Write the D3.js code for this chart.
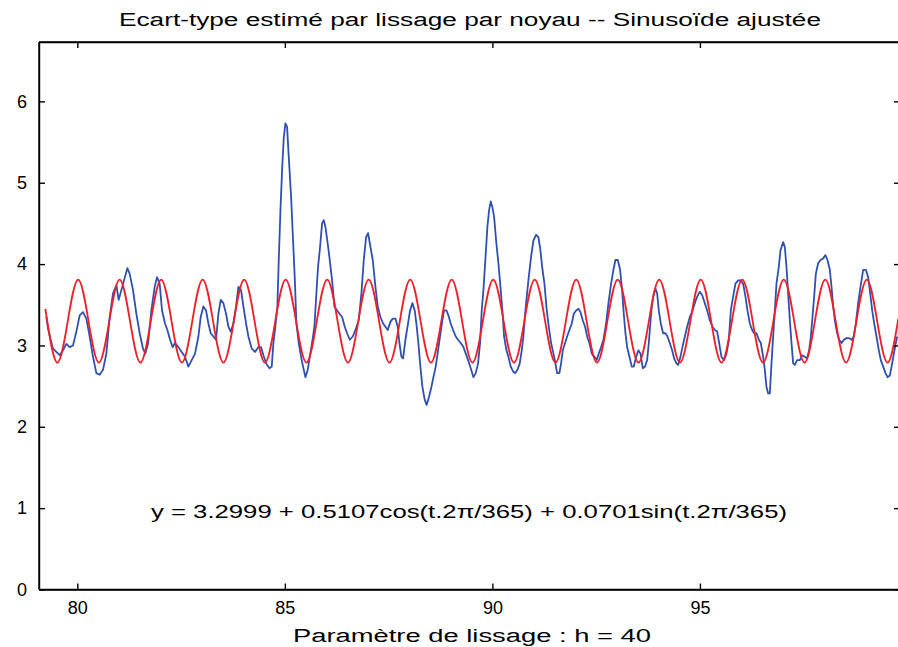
<!DOCTYPE html>
<html><head><meta charset="utf-8">
<script src="https://cdn.jsdelivr.net/npm/d3@7"></script>
<style>
html,body{margin:0;padding:0;background:#fff;}
svg{display:block;font-family:"Liberation Sans",Arial,sans-serif;}
</style></head>
<body>
<svg id="chart" width="898" height="647"></svg>
<script>
// ---- data ----
const xTicks = [80, 85, 90, 95];
const yTicks = [0, 1, 2, 3, 4, 5, 6];
const titleText = "Ecart-type estimé par lissage par noyau -- Sinusoïde ajustée";
const xLabelText = "Paramètre de lissage : h  = 40";
const equationText = "y = 3.2999 + 0.5107cos(t.2π/365) + 0.0701sin(t.2π/365)";

// kernel-smoothed standard deviation (blue)
const blueX = [
79.254,79.294,79.358,79.415,79.495,79.575,79.655,79.736,79.816,79.896,79.977,80.057,80.137,80.218,80.298,80.378,80.459,80.539,80.619,80.700,80.780,80.860,80.941,80.997,81.061,81.125,81.206,81.262,81.342,81.422,81.503,81.583,81.639,81.704,81.784,81.864,81.920,81.984,82.041,
82.113,82.170,82.234,82.298,82.354,82.435,82.515,82.595,82.676,82.756,82.836,82.917,82.973,83.037,83.101,83.158,83.214,83.278,83.342,83.399,83.455,83.519,83.583,83.640,83.696,83.760,83.824,83.881,83.945,84.001,84.065,84.122,84.202,84.282,84.363,84.427,84.483,84.547,84.628,84.684,84.724,84.780,84.820,84.853,84.893,
84.933,84.973,85.013,85.053,85.094,85.150,85.198,85.238,85.278,85.335,85.391,85.439,85.495,85.551,85.600,85.656,85.712,85.760,85.800,85.841,85.897,85.937,85.977,86.033,86.082,86.138,86.194,86.258,86.315,86.379,86.443,86.499,86.564,86.636,86.700,86.780,86.845,86.901,86.957,87.005,87.062,87.118,87.182,87.238,87.302,87.367,87.423,87.479,87.543,87.600,87.664,87.720,87.760,87.809,87.849,87.905,
87.968,88.017,88.073,88.129,88.177,88.217,88.258,88.314,88.370,88.418,88.474,88.531,88.579,88.635,88.691,88.739,88.796,88.836,88.892,88.940,88.996,89.053,89.117,89.173,89.237,89.302,89.358,89.414,89.478,89.543,89.599,89.655,89.703,89.743,89.784,89.840,89.880,89.920,89.960,90.000,90.041,90.097,90.145,90.201,90.241,90.282,90.338,90.386,90.442,90.498,90.547,90.603,90.659,90.707,90.747,90.788,90.828,
90.876,90.932,90.989,91.053,91.109,91.157,91.198,91.254,91.310,91.358,91.414,91.471,91.519,91.559,91.615,91.655,91.696,91.752,91.800,91.856,91.912,91.961,92.017,92.073,92.121,92.177,92.234,92.282,92.338,92.394,92.459,92.515,92.563,92.619,92.675,92.740,92.796,92.860,92.916,92.965,93.021,93.077,93.125,93.165,93.206,93.246,93.302,93.358,93.406,93.463,93.519,93.567,93.623,93.679,93.728,93.768,
93.792,93.832,93.872,93.929,93.969,94.009,94.057,94.113,94.170,94.218,94.274,94.330,94.379,94.435,94.475,94.531,94.579,94.636,94.692,94.756,94.812,94.876,94.933,94.997,95.053,95.117,95.174,95.238,95.302,95.358,95.415,95.463,95.519,95.583,95.640,95.696,95.744,95.800,95.856,95.921,95.977,96.041,96.097,96.145,96.202,96.258,96.306,96.362,96.419,96.467,96.523,96.563,96.603,96.644,96.684,96.724,96.764,
96.804,96.844,96.901,96.941,97.005,97.045,97.085,97.125,97.166,97.206,97.246,97.286,97.342,97.407,97.463,97.527,97.583,97.631,97.672,97.712,97.752,97.792,97.848,97.905,97.969,98.025,98.073,98.129,98.170,98.210,98.250,98.306,98.354,98.411,98.467,98.531,98.595,98.652,98.708,98.756,98.812,98.868,98.933,98.997,99.053,99.093,99.150,99.198,99.254,99.310,99.358,99.415,99.471,99.519,99.575,99.631,99.672,99.720,99.752
];
const blueY = [
3.35,3.21,3.07,2.96,2.92,2.88,2.94,3.02,2.98,3.00,3.17,3.37,3.41,3.33,3.11,2.86,2.66,2.64,2.70,2.90,3.35,3.64,3.74,3.56,3.68,3.80,3.95,3.88,3.68,3.39,3.15,2.96,2.90,3.02,3.43,3.72,3.84,3.76,3.43,
3.27,3.19,3.07,2.98,3.03,2.98,2.92,2.86,2.74,2.82,2.90,3.11,3.35,3.48,3.43,3.27,3.15,3.11,3.07,3.39,3.56,3.52,3.39,3.23,3.17,3.27,3.48,3.72,3.68,3.48,3.27,3.11,2.96,2.92,2.98,2.98,2.88,2.78,2.72,2.74,3.03,3.27,3.48,4.05,4.65,
5.15,5.55,5.73,5.69,5.32,4.83,4.29,3.84,3.27,3.03,2.86,2.74,2.61,2.70,2.86,3.03,3.23,3.64,3.97,4.17,4.50,4.54,4.46,4.25,4.05,3.80,3.48,3.43,3.39,3.35,3.23,3.15,3.07,3.11,3.19,3.31,3.64,4.05,4.33,4.38,4.21,4.05,3.72,3.48,3.35,3.27,3.23,3.19,3.29,3.33,3.33,3.23,3.03,2.86,2.84,3.07,
3.27,3.43,3.52,3.43,3.23,3.03,2.78,2.49,2.33,2.27,2.37,2.49,2.61,2.74,2.94,3.11,3.31,3.43,3.43,3.37,3.27,3.19,3.11,3.07,3.03,2.98,2.90,2.82,2.72,2.61,2.66,2.78,3.03,3.43,3.68,4.13,4.46,4.66,4.77,4.70,4.58,4.25,4.01,3.68,3.43,3.11,2.94,2.86,2.74,2.68,2.66,2.70,2.78,2.94,3.11,3.39,3.60,
3.84,4.09,4.29,4.36,4.33,4.17,3.97,3.76,3.43,3.23,3.03,2.90,2.78,2.66,2.66,2.78,2.94,3.03,3.11,3.19,3.27,3.39,3.43,3.45,3.41,3.31,3.23,3.11,3.03,2.90,2.86,2.82,2.90,2.98,3.07,3.27,3.52,3.76,3.93,4.05,4.05,3.93,3.68,3.39,3.15,2.98,2.86,2.74,2.74,2.86,2.94,2.90,2.72,2.74,2.82,3.03,
3.19,3.43,3.60,3.70,3.64,3.43,3.27,3.15,3.15,3.11,3.03,2.94,2.84,2.78,2.76,2.86,2.98,3.11,3.23,3.35,3.41,3.52,3.60,3.66,3.62,3.52,3.43,3.31,3.23,3.19,3.17,3.03,2.86,2.82,2.90,3.07,3.43,3.60,3.76,3.80,3.80,3.76,3.60,3.43,3.27,3.19,3.15,3.15,3.07,3.03,2.86,2.70,2.49,2.41,2.41,2.78,3.11,
3.43,3.76,3.97,4.17,4.27,4.21,3.97,3.64,3.31,3.03,2.78,2.76,2.82,2.82,2.88,2.86,2.84,2.94,3.11,3.35,3.60,3.88,4.01,4.05,4.07,4.11,4.05,3.93,3.72,3.48,3.31,3.15,3.07,3.03,3.07,3.09,3.09,3.07,3.11,3.27,3.52,3.72,3.93,3.93,3.84,3.68,3.43,3.27,3.11,2.94,2.82,2.74,2.66,2.61,2.63,2.78,2.90,3.03,3.11
];

// fitted sinusoid (red): start, successive troughs/peaks, end
const redX = [79.23,
79.52,80.02,80.52,81.02,81.52,82.02,82.52,83.02,83.52,84.02,84.52,85.02,85.52,86.02,86.52,87.02,87.52,88.02,88.52,89.02,
89.52,90.02,90.52,91.02,91.52,92.02,92.52,93.02,93.52,94.02,94.52,95.02,95.52,96.02,96.52,97.02,97.52,98.02,98.52,99.02,99.52,
99.78];
const redY = [3.45,
2.79,3.81,2.79,3.81,2.79,3.81,2.79,3.81,2.79,3.81,2.79,3.81,2.79,3.81,2.79,3.81,2.79,3.81,2.79,3.81,
2.79,3.81,2.79,3.81,2.79,3.81,2.79,3.81,2.79,3.81,2.79,3.81,2.79,3.81,2.79,3.81,2.79,3.81,2.79,3.81,2.79,
3.33];

// ---- drawing ----
const svg = d3.select("#chart");
const L = 39, T = 42, R = 900, B = 589.5;
const x = d3.scaleLinear().domain([79.077, 99.82]).range([L, R]);
const y = d3.scaleLinear().domain([0, 6.73]).range([B, T]);

const blue = blueX.map((v, i) => [v, blueY[i]]);
const red = redX.map((v, i) => [v, redY[i]]);

svg.append("defs").append("clipPath").attr("id", "clip")
  .append("rect").attr("x", L).attr("y", T).attr("width", R - L).attr("height", B - T);

const g = svg.append("g").attr("clip-path", "url(#clip)");
g.append("path")
  .attr("d", d3.line().x(d => x(d[0])).y(d => y(d[1])).curve(d3.curveLinear)(blue))
  .attr("fill", "none").attr("stroke", "#3050b0").attr("stroke-width", 1.8).attr("stroke-linejoin", "round");
g.append("path")
  .attr("d", d3.line().x(d => x(d[0])).y(d => y(d[1])).curve(d3.curveMonotoneX)(red))
  .attr("fill", "none").attr("stroke", "#f01e28").attr("stroke-width", 1.8);

// axes (MATLAB style box with inward ticks)
const tickLen = 6;
const axStyle = s => s.attr("stroke", "#000").attr("stroke-width", 1.4);
const fs = 18;

const xb = svg.append("g").attr("transform", `translate(0,${B})`)
  .call(d3.axisBottom(x).tickValues(xTicks).tickSizeInner(-tickLen).tickSizeOuter(0).tickPadding(12).tickFormat(d3.format("d")));
const xt = svg.append("g").attr("transform", `translate(0,${T})`)
  .call(d3.axisTop(x).tickValues(xTicks).tickSizeInner(-tickLen).tickSizeOuter(0).tickFormat(""));
const yl = svg.append("g").attr("transform", `translate(${L},0)`)
  .call(d3.axisLeft(y).tickValues(yTicks).tickSizeInner(-tickLen).tickSizeOuter(0).tickPadding(12).tickFormat(d3.format("d")));
const yr = svg.append("g").attr("transform", `translate(${R},0)`)
  .call(d3.axisRight(y).tickValues(yTicks).tickSizeInner(-tickLen).tickSizeOuter(0).tickFormat(""));
[xb, xt, yl, yr].forEach(a => {
  a.select(".domain").call(axStyle);
  a.selectAll(".tick line").call(axStyle);
  a.selectAll("text").attr("font-size", fs).attr("fill", "#000")
    .attr("font-family", "'Liberation Sans', Arial, sans-serif");
});
svg.append("line").attr("x1", L).attr("x2", R).attr("y1", T).attr("y2", T).call(axStyle);
svg.append("line").attr("x1", L).attr("x2", R).attr("y1", B).attr("y2", B).call(axStyle);
svg.append("line").attr("x1", L).attr("x2", L).attr("y1", T).attr("y2", B).call(axStyle);

// texts
svg.append("text").attr("x", 470).attr("y", 26).attr("text-anchor", "middle")
  .attr("font-size", 18).attr("textLength", 702).attr("lengthAdjust", "spacingAndGlyphs")
  .text(titleText);
svg.append("text").attr("x", 472).attr("y", 642).attr("text-anchor", "middle")
  .attr("font-size", 18).attr("textLength", 358).attr("lengthAdjust", "spacingAndGlyphs")
  .text(xLabelText);
svg.append("text").attr("x", 469).attr("y", 518).attr("text-anchor", "middle")
  .attr("font-size", 18).attr("textLength", 636).attr("lengthAdjust", "spacingAndGlyphs")
  .text(equationText);
</script>
</body></html>
